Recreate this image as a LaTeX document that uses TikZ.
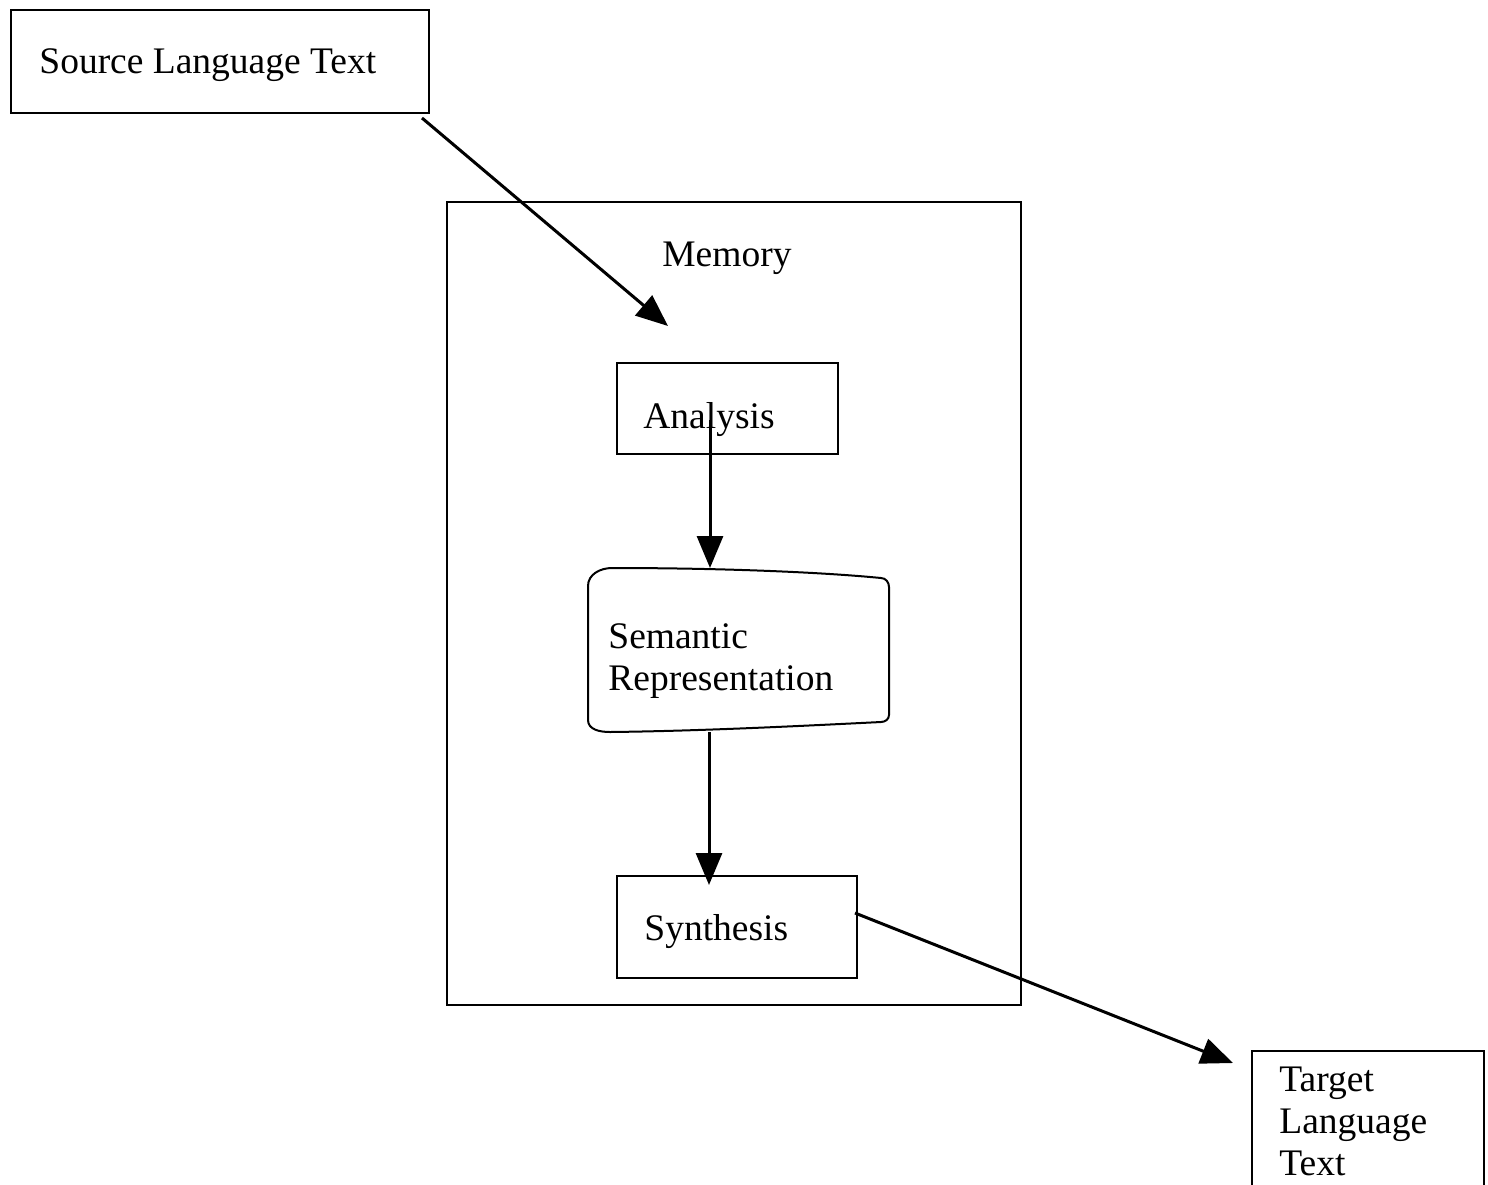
\documentclass[tikz,border=0pt]{standalone}
\usepackage{fontspec}
\setmainfont{Liberation Serif}
\usetikzlibrary{arrows.meta}

\begin{document}
\begin{tikzpicture}[x=0.5pt,y=-0.5pt,
  label/.style={inner sep=0pt, anchor=base west, align=left,
    font=\fontsize{18.75}{21}\selectfont},
  frame/.style={line width=1pt},
  flow/.style={line width=1.5pt, -{Triangle[length=16pt,width=13pt]}}]

\useasboundingbox (0,0) rectangle (1488,1184);
\clip (0,0) rectangle (1488,1184);

% outer boxes
\draw[frame] (11,10) rectangle (429,113);
\node[label] (src) at (39,73) {Source Language Text};

\draw[frame] (447,202) rectangle (1021,1005);
\node[label] (mem) at (662,266) {Memory};

\draw[frame] (617,363) rectangle (838,454);
\node[label] (ana) at (643,428) {Analysis};

% semantic representation store
\draw[frame] (588,720) -- (588,586)
  to[out=90,in=180] (612,568)
  .. controls (720,568) and (820,572) .. (881,578)
  to[out=0,in=90] (889,587) -- (889,715)
  to[out=-90,in=0] (881,722)
  .. controls (800,726) and (700,731) .. (610,732)
  to[out=180,in=-90] (588,720) -- cycle;
% a multi-line label sits on the baseline of its last line
\node[label] (sem) at (608,690) {Semantic\\Representation};

\draw[frame] (617,876) rectangle (857,978);
\node[label] (syn) at (644,940) {Synthesis};

\draw[frame] (1252,1051) rectangle (1484,1200);
\node[label] (tgt) at (1279,1175) {Target\\Language\\Text};

% connector end points
\coordinate (srcout) at (422,118);
\coordinate (memin) at (668,326);
\coordinate (anaout) at (710,420);
\coordinate (semin) at (710,568);
\coordinate (semout) at (709,732);
\coordinate (synin) at (709,885);
\coordinate (synout) at (855,913);
\coordinate (tgtin) at (1233,1063);

\draw[flow] (srcout) -- (memin);
\draw[flow] (anaout) -- (semin);
\draw[flow] (semout) -- (synin);
\draw[flow] (synout) -- (tgtin);
\end{tikzpicture}
\end{document}
